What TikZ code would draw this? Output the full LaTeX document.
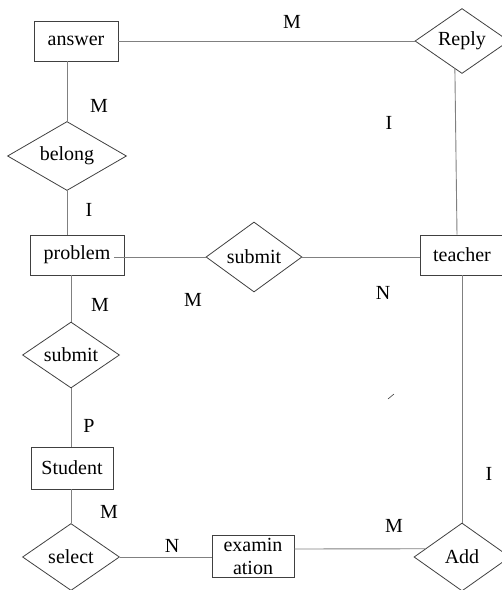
\documentclass[tikz,border=0pt]{standalone}
\usepackage{fontspec}
\setmainfont{Liberation Serif}
\usetikzlibrary{shapes.geometric,calc}
\definecolor{boxline}{HTML}{404040}
\definecolor{linkline}{HTML}{808080}
\begin{document}
\begin{tikzpicture}[
  x=1pt, y=-1pt,
  every node/.style={
    font=\fontsize{20}{23}\selectfont
  },
  entity/.style={
    draw=boxline,
    rectangle,
    line width=0.8pt,
    inner sep=0pt,
    minimum height=40pt,
    align=center
  },
  relation/.style={
    draw=boxline,
    diamond,
    line width=0.8pt,
    inner sep=0pt,
    aspect=1.4
  },
  link/.style={
    draw=linkline,
    line width=0.9pt
  },
  card/.style={
    inner sep=0pt
  }
]%
\useasboundingbox (0,0) rectangle (502,590);
% entities
\node [entity, minimum width=84pt] (answer) at (76,41) {answer};
\node [entity, minimum width=94pt] (problem) at (77,255) {problem};
\node [entity, minimum width=84pt] (teacher) at (462,255) {teacher};
\node [entity, minimum width=82pt, minimum height=42pt] (student) at (72,468) {Student};
\node [entity, minimum width=82pt, minimum height=42pt] (exam) at (253,556) {examin\\ation};
% relations
\node [relation, minimum width=94pt, minimum height=65pt] (reply) at (462,41) {Reply};
\node [relation, minimum width=119pt, minimum height=69pt] (belong) at (67,156) {belong};
\node [relation, minimum width=96pt, minimum height=70pt] (submit_a) at (254,257) {submit};
\node [relation, minimum width=97pt, minimum height=66pt] (submit_b) at (71,355) {submit};
\node [relation, minimum width=97pt, minimum height=67pt] (select) at (71,557) {select};
\node [relation, minimum width=96pt, minimum height=68pt] (add) at (462,557) {Add};
% connectors
\draw [link] (answer.east) -- (reply.west);
\draw [link] (belong.north) -- (belong.north |- answer.south);
\draw [link] (belong.south) -- (belong.south |- problem.north);
\draw [link] (submit_a.west) -- ([xshift=-10pt]submit_a.west -| problem.east);
\draw [link] (submit_a.east) -- (submit_a.east -| teacher.west);
\draw [link] ($(reply.south)!0.15!(reply.west)$) -- ([xshift=-5pt]teacher.north);
\draw [link] (teacher.south) -- (add.north);
\draw [link] (submit_b.north) -- (submit_b.north |- problem.south);
\draw [link] (submit_b.south) -- (submit_b.south |- student.north);
\draw [link] (select.north) -- (select.north |- student.south);
\draw [link] (select.east) -- (select.east -| exam.west);
\draw [link] ([yshift=7pt]exam.east) -- ($(add.west)!0.24!(add.north)$);
\draw [draw=boxline, line width=0.6pt] (388,399) -- (394,394);
% cardinalities
\node [card] (c_reply) at (292,22) {M};
\node [card] (c_answer) at (99,106) {M};
\node [card] (c_belong) at (89,210) {I};
\node [card] (c_teacher) at (389,123) {I};
\node [card] (c_problem) at (193,300) {M};
\node [card] (c_submit) at (383,293) {N};
\node [card] (c_sub_b) at (100,305) {M};
\node [card] (c_student) at (89,426) {P};
\node [card] (c_select) at (109,512) {M};
\node [card] (c_exam) at (172,546) {N};
\node [card] (c_add) at (394,526) {M};
\node [card] (c_add_t) at (489,474) {I};
\end{tikzpicture}
\end{document}
